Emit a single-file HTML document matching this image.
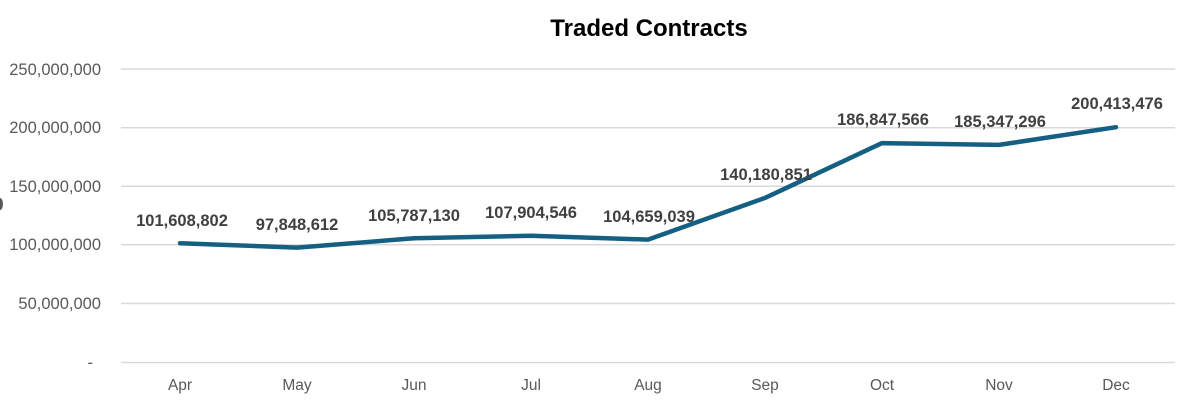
<!DOCTYPE html>
<html><head><style>
body{margin:0;background:#fff;}
svg{display:block;font-family:"Liberation Sans",sans-serif;}
</style></head><body>
<svg width="1196" height="405" viewBox="0 0 1196 405">
<text x="649" y="36" text-anchor="middle" font-size="24" font-weight="bold" fill="#000">Traded Contracts</text>
<g stroke="#d9d9d9" stroke-width="1.5">
<line x1="121" x2="1175" y1="69" y2="69"/>
<line x1="121" x2="1175" y1="127.7" y2="127.7"/>
<line x1="121" x2="1175" y1="186.3" y2="186.3"/>
<line x1="121" x2="1175" y1="244.7" y2="244.7"/>
<line x1="121" x2="1175" y1="303.5" y2="303.5"/>
<line x1="121" x2="1175" y1="362.5" y2="362.5"/>
</g>
<g font-size="16.5" fill="#595959" text-anchor="end">
<text x="101" y="75">250,000,000</text>
<text x="101" y="133">200,000,000</text>
<text x="101" y="192">150,000,000</text>
<text x="101" y="250">100,000,000</text>
<text x="101" y="309">50,000,000</text>
<text x="93" y="368">-</text>
</g>
<ellipse cx="0" cy="204" rx="3" ry="6" fill="#595959"/>
<g font-size="15.5" fill="#595959" text-anchor="middle">
<text x="180" y="390">Apr</text><text x="297" y="390">May</text><text x="414" y="390">Jun</text>
<text x="531" y="390">Jul</text><text x="648" y="390">Aug</text><text x="765" y="390">Sep</text>
<text x="882" y="390">Oct</text><text x="999" y="390">Nov</text><text x="1116" y="390">Dec</text>
</g>
<polyline fill="none" stroke="#156082" stroke-width="4.5" stroke-linejoin="round" stroke-linecap="round"
points="180,243.2 297,247.6 414,238.3 531,235.8 648,239.6 765,197.9 882,143.1 999,144.9 1116,127.2"/>
<g font-size="16.5" font-weight="bold" fill="#404040" text-anchor="middle">
<text x="182" y="226">101,608,802</text>
<text x="297" y="230">97,848,612</text>
<text x="414" y="221">105,787,130</text>
<text x="531" y="218">107,904,546</text>
<text x="649" y="222">104,659,039</text>
<text x="766" y="180">140,180,851</text>
<text x="883" y="125">186,847,566</text>
<text x="1000" y="127">185,347,296</text>
<text x="1117" y="109">200,413,476</text>
</g>
</svg>
</body></html>
